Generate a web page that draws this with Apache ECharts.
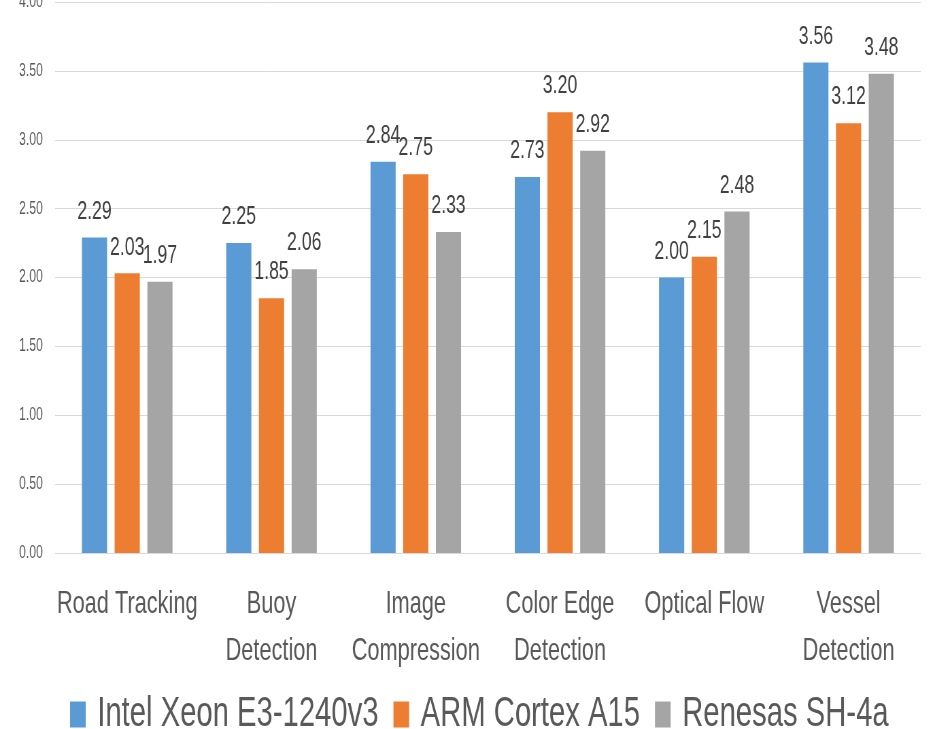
<!DOCTYPE html>
<html>
<head>
<meta charset="utf-8">
<script src="https://cdn.jsdelivr.net/npm/echarts@6/dist/echarts.min.js"></script>
<style>
  html, body { margin: 0; padding: 0; background: #fff; overflow: hidden; }
  #wrap { width: 934px; height: 729px; overflow: hidden; }
  /* Condensed type: chart is laid out wide and squeezed horizontally */
  #chart { width: 1374px; height: 729px; transform: scaleX(0.68); transform-origin: 0 0; }
</style>
</head>
<body>
<div id="wrap"><div id="chart"></div></div>
<script>
const categories = ['Road Tracking', 'Buoy\nDetection', 'Image\nCompression', 'Color Edge\nDetection', 'Optical Flow', 'Vessel\nDetection'];
const seriesNames = ['Intel Xeon E3-1240v3', 'ARM Cortex A15', 'Renesas SH-4a'];
const intelXeon = [2.29, 2.25, 2.84, 2.73, 2.00, 3.56];
const armCortex = [2.03, 1.85, 2.75, 3.20, 2.15, 3.12];
const renesasSH = [1.97, 2.06, 2.33, 2.92, 2.48, 3.48];
const yTicks = { min: 0, max: 4, interval: 0.5 };
const colors = ['#5B9BD5', '#ED7D31', '#A5A5A5'];

const FONT = "'Liberation Sans', Arial, sans-serif";

function barSeries(name, data, color) {
  return {
    name: name,
    type: 'bar',
    data: data,
    barWidth: 37,
    barGap: '30%',
    itemStyle: { color: color },
    label: {
      show: true,
      position: 'top',
      distance: 13,
      color: '#404040',
      fontFamily: FONT,
      fontSize: 26,
      formatter: p => p.value.toFixed(2)
    }
  };
}

const chart = echarts.init(document.getElementById('chart'), null, { renderer: 'canvas' });
chart.setOption({
  animation: false,
  backgroundColor: '#fff',
  color: colors,
  grid: { left: 81, right: 20, top: 2, bottom: 176, containLabel: false, outerBoundsMode: 'none' },
  legend: {
    data: seriesNames,
    left: 98,
    top: 688,
    itemWidth: 23,
    itemHeight: 26,
    itemGap: 22,
    icon: 'rect',
    textStyle: { color: '#595959', fontFamily: FONT, fontSize: 43, padding: [0, 0, 0, 12] }
  },
  xAxis: {
    type: 'category',
    data: categories,
    axisLine: { show: false },
    axisTick: { show: false },
    axisLabel: {
      color: '#595959',
      fontFamily: FONT,
      fontSize: 32,
      lineHeight: 47,
      margin: 28,
      interval: 0
    }
  },
  yAxis: {
    type: 'value',
    min: yTicks.min,
    max: yTicks.max,
    interval: yTicks.interval,
    axisLine: { show: false },
    axisTick: { show: false },
    splitLine: { lineStyle: { color: '#D9D9D9', width: 1 } },
    axisLabel: {
      color: '#595959',
      fontFamily: FONT,
      fontSize: 18,
      margin: 18,
      formatter: v => v.toFixed(2)
    }
  },
  series: [
    barSeries(seriesNames[0], intelXeon, colors[0]),
    barSeries(seriesNames[1], armCortex, colors[1]),
    barSeries(seriesNames[2], renesasSH, colors[2])
  ]
});
</script>
</body>
</html>
